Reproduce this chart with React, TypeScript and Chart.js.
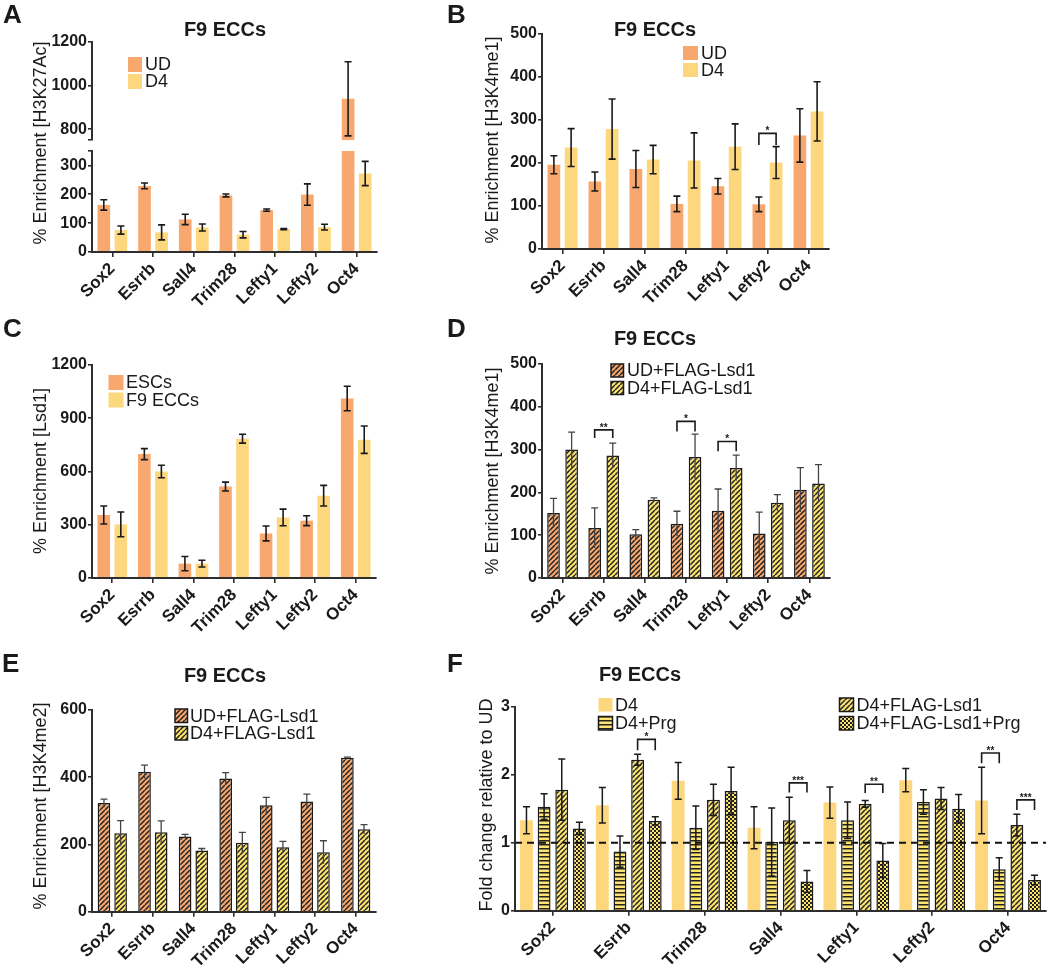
import React, { useEffect, useRef } from 'react';
import { Chart, registerables } from 'chart.js';

Chart.register(...registerables);

const W = 1050;
const H = 969;
const CH = 1069; // canvas height (taller than the page so rotated labels are never clipped)
const FONT = "'Liberation Sans', Arial, Helvetica, sans-serif";
const INK = '#1a1a1a';
const AXIS = '#2e2e2e';
const ORANGE = '#F8A86E';
const YELLOW = '#FDD77E';
const HATCH_YELLOW = '#FCE46F';
const STRIPE = '#222222';

Chart.defaults.font.family = FONT;

// ---------------- data ----------------
const genes = ['Sox2', 'Esrrb', 'Sall4', 'Trim28', 'Lefty1', 'Lefty2', 'Oct4'];
const genesF = ['Sox2', 'Esrrb', 'Trim28', 'Sall4', 'Lefty1', 'Lefty2', 'Oct4'];

// Panel A  (H3K27Ac, broken axis)
const aUD = [163, 229, 113, 196, 145, 199, 939];
const aUDErr = [18, 10, 18, 5, 4, 37, 170];
const aD4 = [76, 68, 85, 60, 79, 86, 272];
const aD4Err = [14, 26, 12, 11, 2, 10, 42];
const aUpperTicks = [750, 800, 1000, 1200];
const aLowerTicks = [0, 100, 200, 300, 350];
const aBreakTicks = [750, 350];

// Panel B  (H3K4me1)
const bUD = [196, 157, 186, 105, 146, 104, 264];
const bUDErr = [21, 22, 43, 18, 18, 17, 62];
const bD4 = [236, 279, 208, 206, 238, 201, 320];
const bD4Err = [44, 70, 33, 64, 53, 37, 69];
const bTicks = [0, 100, 200, 300, 400, 500];
const bSig = [{ cat: 5, from: 0, to: 1, top: 269, foot: 242, mark: '*' }];

// Panel C  (Lsd1)
const cESC = [355, 698, 81, 515, 251, 323, 1011];
const cESCErr = [51, 31, 40, 25, 42, 28, 69];
const cF9 = [302, 600, 81, 785, 341, 464, 779];
const cF9Err = [70, 35, 19, 25, 47, 58, 77];
const cTicks = [0, 300, 600, 900, 1200];

// Panel D  (H3K4me1 + FLAG-Lsd1)
const dUD = [152, 117, 102, 127, 157, 104, 206];
const dUDErr = [34, 47, 11, 29, 51, 50, 52];
const dD4 = [300, 286, 183, 283, 257, 176, 221];
const dD4Err = [41, 29, 4, 53, 30, 19, 44];
const dTicks = [0, 100, 200, 300, 400, 500];
const dSig = [
  { cat: 1, from: 0, to: 1, top: 346, foot: 327, mark: '**' },
  { cat: 3, from: 0, to: 1, top: 366, foot: 342, mark: '*' },
  { cat: 4, from: 0, to: 1, top: 319, foot: 296, mark: '*' },
];

// Panel E  (H3K4me2 + FLAG-Lsd1)
const eUD = [323, 416, 224, 396, 317, 328, 458];
const eUDErr = [12, 20, 6, 18, 23, 22, 2];
const eD4 = [233, 236, 182, 205, 192, 177, 245];
const eD4Err = [38, 34, 6, 31, 17, 34, 14];
const eTicks = [0, 200, 400, 600];

// Panel F  (fold change relative to UD)
const fD4 = [1.33, 1.55, 1.91, 1.22, 1.59, 1.92, 1.62];
const fD4Err = [0.2, 0.26, 0.27, 0.31, 0.23, 0.17, 0.49];
const fPrg = [1.53, 0.87, 1.22, 1.01, 1.33, 1.6, 0.61];
const fPrgErr = [0.19, 0.23, 0.32, 0.5, 0.27, 0.18, 0.17];
const fFlag = [1.78, 2.22, 1.63, 1.33, 1.57, 1.65, 1.26];
const fFlagErr = [0.45, 0.08, 0.23, 0.34, 0.05, 0.16, 0.16];
const fFlagPrg = [1.21, 1.32, 1.76, 0.43, 0.74, 1.5, 0.45];
const fFlagPrgErr = [0.09, 0.06, 0.35, 0.16, 0.25, 0.21, 0.07];
const fTicks = [0, 1, 2, 3];
const fBaseline = 1;
const fSig = [
  { cat: 1, from: 2, to: 3, top: 2.52, foot: 2.36, mark: '*' },
  { cat: 3, from: 2, to: 3, top: 1.88, foot: 1.74, mark: '***' },
  { cat: 4, from: 2, to: 3, top: 1.86, foot: 1.73, mark: '**' },
  { cat: 6, from: 0, to: 1, top: 2.32, foot: 2.17, mark: '**' },
  { cat: 6, from: 2, to: 3, top: 1.63, foot: 1.48, mark: '***' },
];

// ---------------- helpers ----------------
type Area = { l: number; t: number; r: number; b: number };
type ErrStyle = { color: string; width: number; cap: number; lower: boolean };
type DS = { label: string; data: number[]; errors: number[]; fill: any; stroke?: boolean; err: ErrStyle };
type TextItem = { text: string; x: number; y: number; size: number; bold?: boolean; rot?: boolean; align?: CanvasTextAlign };
type LegendItem = { text: string; x: number; y: number; w: number; h: number; fill: any; stroke?: boolean; tx: number };
type Sig = { cat: number; from: number; to: number; top: number; foot: number; mark: string };
type PanelOpts = {
  labels: string[];
  sets: DS[];
  area: Area;
  min: number;
  max: number;
  ticks: number[];
  blank?: number[];
  showX?: boolean;
  catPct: number;
  barPct: number;
  clip?: boolean;
  texts?: TextItem[];
  legend?: LegendItem[];
  sigs?: Sig[];
  refLine?: number;
};

const Y_W = 60;
const X_H = 90;

function tile(size: number, draw: (c: CanvasRenderingContext2D) => void): CanvasPattern {
  const cv = document.createElement('canvas');
  cv.width = size;
  cv.height = size;
  const c = cv.getContext('2d') as CanvasRenderingContext2D;
  draw(c);
  return c.createPattern(cv, 'repeat') as CanvasPattern;
}

function diagPattern(bg: string, fg: string) {
  return tile(5, (c) => {
    c.fillStyle = bg;
    c.fillRect(0, 0, 5, 5);
    c.strokeStyle = fg;
    c.lineWidth = 1.5;
    c.beginPath();
    for (const o of [-5, 0, 5]) {
      c.moveTo(o, 5);
      c.lineTo(o + 5, 0);
    }
    c.stroke();
  });
}

function horizPattern(bg: string, fg: string) {
  return tile(4, (c) => {
    c.fillStyle = bg;
    c.fillRect(0, 0, 4, 4);
    c.fillStyle = fg;
    c.fillRect(0, 0, 4, 1.5);
  });
}

function checkPattern(bg: string, fg: string) {
  return tile(4, (c) => {
    c.fillStyle = bg;
    c.fillRect(0, 0, 4, 4);
    c.fillStyle = fg;
    c.fillRect(0, 0, 2, 2);
    c.fillRect(2, 2, 2, 2);
  });
}

function makeConfig(p: PanelOpts): any {
  const showX = p.showX !== false;
  const overlay = {
    id: 'overlay',
    afterDatasetsDraw(chart: any) {
      const ctx: CanvasRenderingContext2D = chart.ctx;
      const ys = chart.scales.y;
      const a = chart.chartArea;
      // error bars
      ctx.save();
      ctx.beginPath();
      ctx.rect(a.left - 20, a.top - 0.5, a.right - a.left + 40, a.bottom - a.top + 1);
      ctx.clip();
      chart.data.datasets.forEach((ds: any, di: number) => {
        if (!ds.errors) return;
        const st: ErrStyle = ds.errStyle;
        const meta = chart.getDatasetMeta(di);
        ctx.strokeStyle = st.color;
        ctx.lineWidth = st.width;
        meta.data.forEach((el: any, i: number) => {
          const v = ds.data[i];
          const e = ds.errors[i];
          const x = el.x;
          const y1 = ys.getPixelForValue(v + e);
          const y0 = ys.getPixelForValue(v - e);
          const hw = st.cap / 2;
          ctx.beginPath();
          ctx.moveTo(x, y0);
          ctx.lineTo(x, y1);
          ctx.moveTo(x - hw, y1);
          ctx.lineTo(x + hw, y1);
          if (st.lower) {
            ctx.moveTo(x - hw, y0);
            ctx.lineTo(x + hw, y0);
          }
          ctx.stroke();
        });
      });
      ctx.restore();
      // significance brackets
      if (p.sigs) {
        ctx.save();
        ctx.strokeStyle = INK;
        ctx.lineWidth = 1.6;
        ctx.fillStyle = INK;
        ctx.font = `bold 10px ${FONT}`;
        ctx.textAlign = 'center';
        ctx.textBaseline = 'alphabetic';
        for (const s of p.sigs) {
          const x1 = chart.getDatasetMeta(s.from).data[s.cat].x;
          const x2 = chart.getDatasetMeta(s.to).data[s.cat].x;
          const yt = ys.getPixelForValue(s.top);
          const yf = ys.getPixelForValue(s.foot);
          ctx.beginPath();
          ctx.moveTo(x1, yf);
          ctx.lineTo(x1, yt);
          ctx.lineTo(x2, yt);
          ctx.lineTo(x2, yf);
          ctx.stroke();
          ctx.fillText(s.mark, (x1 + x2) / 2, yt + 1);
        }
        ctx.restore();
      }
      // dashed reference line
      if (p.refLine !== undefined) {
        const yp = ys.getPixelForValue(p.refLine);
        ctx.save();
        ctx.strokeStyle = '#111111';
        ctx.lineWidth = 2;
        ctx.setLineDash([7, 5]);
        ctx.beginPath();
        ctx.moveTo(a.left, yp);
        ctx.lineTo(a.right, yp);
        ctx.stroke();
        ctx.restore();
      }
    },
    afterDraw(chart: any) {
      const ctx: CanvasRenderingContext2D = chart.ctx;
      ctx.save();
      ctx.fillStyle = INK;
      for (const t of p.texts || []) {
        ctx.font = `${t.bold ? 'bold ' : ''}${t.size}px ${FONT}`;
        ctx.textAlign = t.align || 'center';
        ctx.textBaseline = 'middle';
        if (t.rot) {
          ctx.save();
          ctx.translate(t.x, t.y);
          ctx.rotate(-Math.PI / 2);
          ctx.fillText(t.text, 0, 0);
          ctx.restore();
        } else {
          ctx.fillText(t.text, t.x, t.y);
        }
      }
      for (const l of p.legend || []) {
        ctx.fillStyle = l.fill;
        ctx.fillRect(l.x, l.y, l.w, l.h);
        if (l.stroke) {
          ctx.strokeStyle = INK;
          ctx.lineWidth = 1.5;
          ctx.strokeRect(l.x, l.y, l.w, l.h);
        }
        ctx.fillStyle = INK;
        ctx.font = `18px ${FONT}`;
        ctx.textAlign = 'left';
        ctx.textBaseline = 'middle';
        ctx.fillText(l.text, l.tx, l.y + l.h / 2 + 1);
      }
      ctx.restore();
    },
  };

  const border = { display: true, color: AXIS, width: 2, z: 1 };
  return {
    type: 'bar',
    data: {
      labels: p.labels,
      datasets: p.sets.map((s) => ({
        label: s.label,
        data: s.data,
        errors: s.errors,
        errStyle: s.err,
        backgroundColor: s.fill,
        borderColor: s.stroke ? INK : 'rgba(0,0,0,0)',
        borderWidth: s.stroke ? 1.5 : 0,
        categoryPercentage: p.catPct,
        barPercentage: p.barPct,
        ...(p.clip ? { clip: 0 } : {}),
      })),
    },
    options: {
      responsive: false,
      animation: false,
      events: [],
      layout: {
        padding: {
          left: p.area.l - Y_W,
          top: p.area.t,
          right: W - p.area.r,
          bottom: showX ? CH - p.area.b - X_H : CH - p.area.b,
        },
      },
      plugins: {
        legend: { display: false },
        tooltip: { enabled: false },
        title: { display: false },
      },
      scales: {
        x: {
          type: 'category',
          display: showX,
          offset: true,
          grid: { display: true, drawOnChartArea: false, drawTicks: true, tickLength: 5, offset: false, color: AXIS, lineWidth: 1.6 },
          border,
          ticks: {
            color: INK,
            font: { family: FONT, size: 17, weight: 'bold' },
            minRotation: 45,
            maxRotation: 45,
            autoSkip: false,
            padding: 2,
          },
          afterFit: (s: any) => {
            s.height = showX ? X_H : 0;
          },
        },
        y: {
          type: 'linear',
          min: p.min,
          max: p.max,
          grid: { display: true, drawOnChartArea: false, drawTicks: true, tickLength: 4, color: AXIS, lineWidth: 1.6 },
          border,
          ticks: {
            color: INK,
            font: { family: FONT, size: 16, weight: 'bold' },
            padding: 1,
            autoSkip: false,
            callback: (v: any) => ((p.blank || []).includes(Number(v)) ? '' : String(v)),
          },
          afterBuildTicks: (s: any) => {
            s.ticks = p.ticks.map((v) => ({ value: v }));
          },
          afterFit: (s: any) => {
            s.width = Y_W;
          },
        },
      },
    },
    plugins: [overlay],
  };
}

function buildConfigs() {
  const solidErr: ErrStyle = { color: INK, width: 1.6, cap: 7, lower: true };
  const hatchErr: ErrStyle = { color: '#444444', width: 1.3, cap: 7, lower: false };
  const fErr: ErrStyle = { color: INK, width: 1.5, cap: 7, lower: true };
  const orangeHatch = diagPattern(ORANGE, STRIPE);
  const yellowHatch = diagPattern(HATCH_YELLOW, STRIPE);
  const yellowHoriz = horizPattern(HATCH_YELLOW, STRIPE);
  const yellowCheck = checkPattern(HATCH_YELLOW, STRIPE);

  const title = (x: number, y: number): TextItem => ({ text: 'F9 ECCs', x, y, size: 20, bold: true });
  const letter = (t: string, x: number, y: number): TextItem => ({ text: t, x, y, size: 26, bold: true, align: 'left' });
  const ylab = (t: string, x: number, y: number): TextItem => ({ text: t, x, y, size: 18, rot: true });

  const aSets: DS[] = [
    { label: 'UD', data: aUD, errors: aUDErr, fill: ORANGE, err: solidErr },
    { label: 'D4', data: aD4, errors: aD4Err, fill: YELLOW, err: solidErr },
  ];

  const aUpper = makeConfig({
    labels: genes, sets: aSets, area: { l: 92, t: 42, r: 377, b: 140 },
    min: 750, max: 1200, ticks: aUpperTicks, blank: aBreakTicks, showX: false,
    catPct: 0.84, barPct: 0.74, clip: true,
  });
  const aLower = makeConfig({
    labels: genes, sets: aSets, area: { l: 92, t: 151, r: 377, b: 252 },
    min: 0, max: 350, ticks: aLowerTicks, blank: aBreakTicks,
    catPct: 0.84, barPct: 0.74, clip: true,
    texts: [letter('A', 3, 16), title(225, 30), ylab('% Enrichment [H3K27Ac]', 41, 143)],
    legend: [
      { text: 'UD', x: 128, y: 57, w: 14, h: 15, fill: ORANGE, tx: 145 },
      { text: 'D4', x: 128, y: 74, w: 14, h: 15, fill: YELLOW, tx: 145 },
    ],
  });

  const b = makeConfig({
    labels: genes,
    sets: [
      { label: 'UD', data: bUD, errors: bUDErr, fill: ORANGE, err: solidErr },
      { label: 'D4', data: bD4, errors: bD4Err, fill: YELLOW, err: solidErr },
    ],
    area: { l: 542, t: 34, r: 829, b: 249 },
    min: 0, max: 500, ticks: bTicks, catPct: 0.84, barPct: 0.74,
    sigs: bSig,
    texts: [letter('B', 447, 16), title(655, 30), ylab('% Enrichment [H3K4me1]', 493, 140)],
    legend: [
      { text: 'UD', x: 683, y: 46, w: 15, h: 14, fill: ORANGE, tx: 701 },
      { text: 'D4', x: 683, y: 63, w: 15, h: 14, fill: YELLOW, tx: 701 },
    ],
  });

  const c = makeConfig({
    labels: genes,
    sets: [
      { label: 'ESCs', data: cESC, errors: cESCErr, fill: ORANGE, err: solidErr },
      { label: 'F9 ECCs', data: cF9, errors: cF9Err, fill: YELLOW, err: solidErr },
    ],
    area: { l: 92, t: 365, r: 376, b: 578 },
    min: 0, max: 1200, ticks: cTicks, catPct: 0.84, barPct: 0.74,
    texts: [letter('C', 3, 330), ylab('% Enrichment [Lsd1]', 41, 471)],
    legend: [
      { text: 'ESCs', x: 108.5, y: 375, w: 15, h: 15, fill: ORANGE, tx: 126 },
      { text: 'F9 ECCs', x: 108.5, y: 392.5, w: 15, h: 15, fill: YELLOW, tx: 126 },
    ],
  });

  const d = makeConfig({
    labels: genes,
    sets: [
      { label: 'UD+FLAG-Lsd1', data: dUD, errors: dUDErr, fill: orangeHatch, stroke: true, err: hatchErr },
      { label: 'D4+FLAG-Lsd1', data: dD4, errors: dD4Err, fill: yellowHatch, stroke: true, err: hatchErr },
    ],
    area: { l: 542, t: 364, r: 830, b: 578 },
    min: 0, max: 500, ticks: dTicks, catPct: 0.88, barPct: 0.7,
    sigs: dSig,
    texts: [letter('D', 447, 330), title(655, 339.5), ylab('% Enrichment [H3K4me1]', 493, 471)],
    legend: [
      { text: 'UD+FLAG-Lsd1', x: 611, y: 364, w: 12.5, h: 13, fill: orangeHatch, stroke: true, tx: 627 },
      { text: 'D4+FLAG-Lsd1', x: 611, y: 381.5, w: 12.5, h: 13, fill: yellowHatch, stroke: true, tx: 627 },
    ],
  });

  const e = makeConfig({
    labels: genes,
    sets: [
      { label: 'UD+FLAG-Lsd1', data: eUD, errors: eUDErr, fill: orangeHatch, stroke: true, err: hatchErr },
      { label: 'D4+FLAG-Lsd1', data: eD4, errors: eD4Err, fill: yellowHatch, stroke: true, err: hatchErr },
    ],
    area: { l: 92, t: 710, r: 376, b: 911.7 },
    min: 0, max: 600, ticks: eTicks, catPct: 0.82, barPct: 0.76,
    texts: [letter('E', 2, 665), title(225, 676), ylab('% Enrichment [H3K4me2]', 41, 806)],
    legend: [
      { text: 'UD+FLAG-Lsd1', x: 175, y: 709, w: 12.5, h: 13.5, fill: orangeHatch, stroke: true, tx: 190 },
      { text: 'D4+FLAG-Lsd1', x: 175, y: 726.5, w: 12.5, h: 13.5, fill: yellowHatch, stroke: true, tx: 190 },
    ],
  });

  const f = makeConfig({
    labels: genesF,
    sets: [
      { label: 'D4', data: fD4, errors: fD4Err, fill: YELLOW, err: fErr },
      { label: 'D4+Prg', data: fPrg, errors: fPrgErr, fill: yellowHoriz, stroke: true, err: fErr },
      { label: 'D4+FLAG-Lsd1', data: fFlag, errors: fFlagErr, fill: yellowHatch, stroke: true, err: fErr },
      { label: 'D4+FLAG-Lsd1+Prg', data: fFlagPrg, errors: fFlagPrgErr, fill: yellowCheck, stroke: true, err: fErr },
    ],
    area: { l: 515, t: 706.7, r: 1046, b: 910.7 },
    min: 0, max: 3, ticks: fTicks, catPct: 0.93, barPct: 0.73,
    sigs: fSig,
    refLine: fBaseline,
    texts: [letter('F', 447, 665), title(640, 675), ylab('Fold change relative to UD', 487, 805)],
    legend: [
      { text: 'D4', x: 598.5, y: 698, w: 14, h: 13.5, fill: YELLOW, tx: 615 },
      { text: 'D4+Prg', x: 598.5, y: 716.5, w: 14, h: 13.5, fill: yellowHoriz, stroke: true, tx: 615 },
      { text: 'D4+FLAG-Lsd1', x: 839.5, y: 698, w: 14, h: 13.5, fill: yellowHatch, stroke: true, tx: 856.5 },
      { text: 'D4+FLAG-Lsd1+Prg', x: 839.5, y: 716.5, w: 14, h: 13.5, fill: yellowCheck, stroke: true, tx: 856.5 },
    ],
  });

  return [aUpper, aLower, b, c, d, e, f];
}

const N_CHARTS = 7;

export default function App() {
  const refs = useRef<(HTMLCanvasElement | null)[]>([]);

  useEffect(() => {
    document.body.style.margin = '0';
    const configs = buildConfigs();
    const charts: Chart[] = [];
    configs.forEach((cfg, i) => {
      const cv = refs.current[i];
      if (cv) charts.push(new Chart(cv, cfg));
    });
    return () => {
      charts.forEach((ch) => ch.destroy());
    };
  }, []);

  return (
    <div style={{ position: 'absolute', left: 0, top: 0, width: W, height: H, background: '#ffffff', overflow: 'hidden' }}>
      {Array.from({ length: N_CHARTS }).map((_, i) => (
        <canvas
          key={i}
          ref={(el) => {
            refs.current[i] = el;
          }}
          width={W}
          height={CH}
          style={{ position: 'absolute', left: 0, top: 0, width: W, height: CH }}
        />
      ))}
    </div>
  );
}
